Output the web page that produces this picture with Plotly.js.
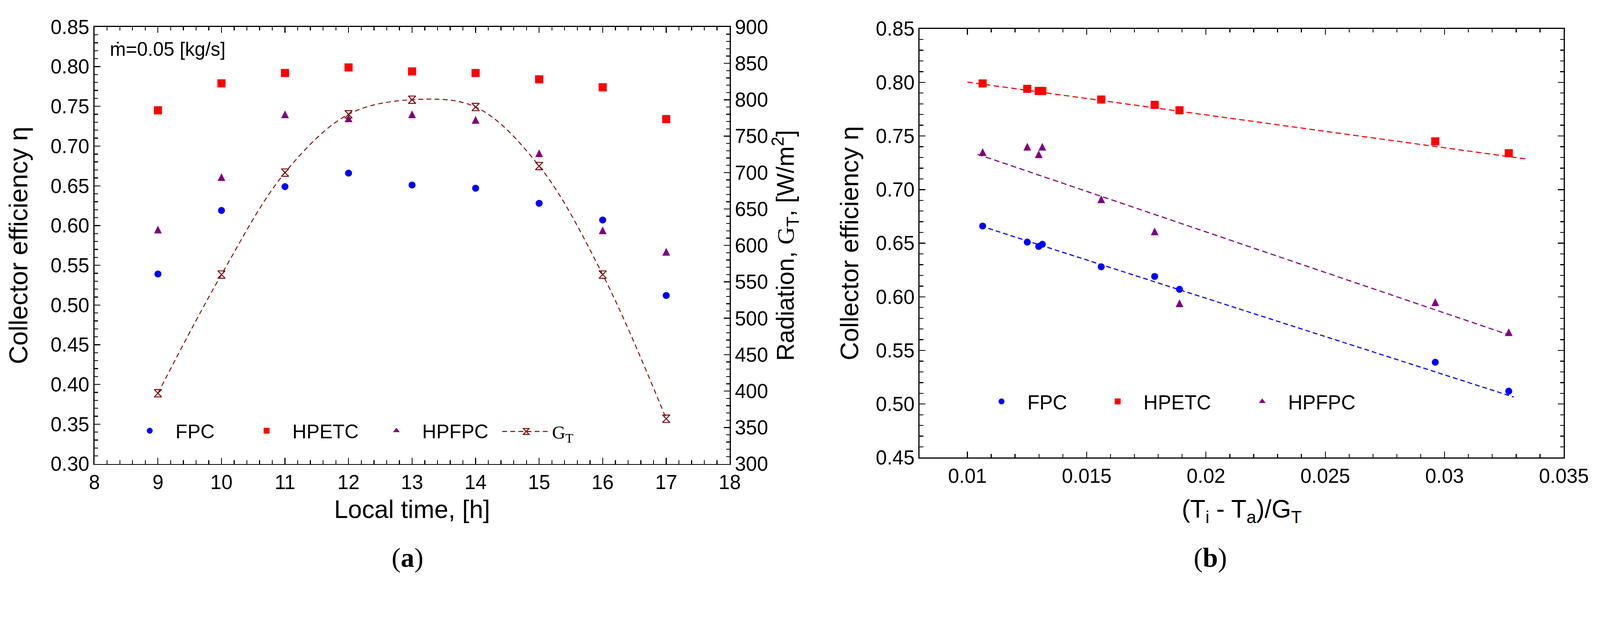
<!DOCTYPE html>
<html>
<head>
<meta charset="utf-8">
<script src="https://cdn.plot.ly/plotly-3.0.1.min.js"></script>
<style>html,body{margin:0;padding:0;background:#fff;overflow:hidden;}</style>
</head>
<body>
<div id="chart" style="width:4339px;height:1582px;transform-origin:0 0;"></div>
<script>
// ---------------- data ----------------
const hours      = [9, 10, 11, 12, 13, 14, 15, 16, 17];
const fpcEff     = [0.539, 0.619, 0.649, 0.666, 0.651, 0.647, 0.628, 0.607, 0.512];
const hpetcEff   = [0.745, 0.779, 0.792, 0.799, 0.794, 0.792, 0.784, 0.774, 0.734];
const hpfpcEff   = [0.595, 0.661, 0.740, 0.735, 0.740, 0.733, 0.691, 0.594, 0.567];
const radiationGT = [397, 560, 700, 780, 800, 790, 709, 560, 362];
const reducedTemp = [0.02961, 0.01785, 0.01314, 0.01064, 0.01251, 0.01299, 0.01561, 0.01889, 0.03269];

// linear fit lines of panel (b): end points
const fpcFitX   = [0.01057, 0.0329];
const fpcFitY   = [0.666, 0.5065];
const hpetcFitX = [0.0100, 0.0334];
const hpetcFitY = [0.8003, 0.7286];
const hpfpcFitX = [0.01042, 0.03287];
const hpfpcFitY = [0.733, 0.5632];

const xTicksB     = [0.01, 0.015, 0.02, 0.025, 0.03, 0.035];
const xTickTextB  = ['0.01', '0.015', '0.02', '0.025', '0.03', '0.035'];

// ---------------- styling ----------------
const W = 4339, H = 1582;
const SANS = 'Liberation Sans, Arial, sans-serif';
const SERIF = 'Liberation Serif, Times New Roman, serif';
const BLUE = '#0000ff', RED = '#ff0000', PURPLE = '#800080', DRED = '#800000';
const px = v => v / W;
const py = v => 1 - v / H;

// fit the fixed-size figure into the actual viewport
const chartDiv = document.getElementById('chart');
const vw = window.innerWidth || document.documentElement.clientWidth || W;
const vh = window.innerHeight || document.documentElement.clientHeight || H;
const sc = Math.min(vw / W, vh / H);
if (Math.abs(sc - 1) > 0.002) chartDiv.style.transform = 'scale(' + sc + ')';

const minorB = [];
for (let i = 10; i <= 34; i++) minorB.push(i / 1000);

const axisCommon = {
  showline: true, linecolor: '#000', linewidth: 3,
  ticks: 'inside', ticklen: 16, tickwidth: 2.5, tickcolor: '#000',
  showgrid: false, zeroline: false, automargin: false,
  tickfont: {family: SANS, size: 54, color: '#000'}
};
const minorCommon = {ticks: 'inside', ticklen: 10, tickwidth: 2.5, tickcolor: '#000', showgrid: false};

// upward triangle centred on the point (arrow-down flipped, moved back by half its height)
const triMarker = (color) => ({symbol: 'arrow-down', angle: 180, size: 21, standoff: 10.5, color: color});

const traces = [
  // panel (a)
  {x: hours, y: fpcEff, type: 'scatter', mode: 'markers', name: 'FPC', legend: 'legend',
   marker: {symbol: 'circle', size: 19, color: BLUE}, xaxis: 'x', yaxis: 'y'},
  {x: hours, y: hpetcEff, type: 'scatter', mode: 'markers', name: 'HPETC', legend: 'legend2',
   marker: {symbol: 'square', size: 22, color: RED}, xaxis: 'x', yaxis: 'y'},
  {x: hours, y: hpfpcEff, type: 'scatter', mode: 'markers', name: 'HPFPC', showlegend: false,
   marker: triMarker(PURPLE), xaxis: 'x', yaxis: 'y'},
  {x: [null], y: [null], type: 'scatter', mode: 'markers', name: 'HPFPC', legend: 'legend3',
   marker: {symbol: 'triangle-up', size: 16, color: PURPLE}, xaxis: 'x', yaxis: 'y'},
  {x: hours, y: radiationGT, type: 'scatter', mode: 'lines+markers', name: 'G<sub>T</sub>', legend: 'legend4',
   line: {color: DRED, width: 2.5, dash: '13px,9px', shape: 'spline', smoothing: 1},
   marker: {symbol: 'hourglass-open', size: 20, color: DRED, line: {width: 2.5, color: DRED}},
   xaxis: 'x', yaxis: 'y2'},
  // panel (b) fit lines
  {x: hpetcFitX, y: hpetcFitY, type: 'scatter', mode: 'lines', showlegend: false,
   line: {color: RED, width: 3, dash: '15px,9px'}, xaxis: 'x2', yaxis: 'y3'},
  {x: hpfpcFitX, y: hpfpcFitY, type: 'scatter', mode: 'lines', showlegend: false,
   line: {color: PURPLE, width: 3, dash: '15px,9px'}, xaxis: 'x2', yaxis: 'y3'},
  {x: fpcFitX, y: fpcFitY, type: 'scatter', mode: 'lines', showlegend: false,
   line: {color: BLUE, width: 3, dash: '13px,8px'}, xaxis: 'x2', yaxis: 'y3'},
  // panel (b) points
  {x: reducedTemp, y: fpcEff, type: 'scatter', mode: 'markers', name: 'FPC', legend: 'legend5',
   marker: {symbol: 'circle', size: 19, color: BLUE}, xaxis: 'x2', yaxis: 'y3'},
  {x: reducedTemp, y: hpetcEff, type: 'scatter', mode: 'markers', name: 'HPETC', legend: 'legend6',
   marker: {symbol: 'square', size: 22, color: RED}, xaxis: 'x2', yaxis: 'y3'},
  {x: reducedTemp, y: hpfpcEff, type: 'scatter', mode: 'markers', name: 'HPFPC', showlegend: false,
   marker: triMarker(PURPLE), xaxis: 'x2', yaxis: 'y3'},
  {x: [null], y: [null], type: 'scatter', mode: 'markers', name: 'HPFPC', legend: 'legend7',
   marker: {symbol: 'triangle-up', size: 16, color: PURPLE}, xaxis: 'x2', yaxis: 'y3'}
];

const legendAt = (xpx, ypx, family, size) => ({
  x: px(xpx), y: py(ypx), xanchor: 'left', yanchor: 'middle', orientation: 'h',
  bgcolor: 'rgba(0,0,0,0)', borderwidth: 0, itemwidth: 130, valign: 'middle',
  font: {family: family, size: size, color: '#000'}
});

const layout = {
  width: W, height: H, autosize: false,
  margin: {l: 0, r: 0, t: 0, b: 0, pad: 0},
  paper_bgcolor: '#fff', plot_bgcolor: 'rgba(0,0,0,0)',
  font: {family: SANS, color: '#000', size: 54},
  xaxis: Object.assign({}, axisCommon, {
    domain: [px(256), px(1979)], anchor: 'y', range: [8, 18], tick0: 8, dtick: 1,
    mirror: 'ticks', minor: Object.assign({dtick: 0.2}, minorCommon),
    title: {text: 'Local time, [h]', font: {family: SANS, size: 68, color: '#000'}, standoff: 22}
  }),
  yaxis: Object.assign({}, axisCommon, {
    domain: [py(1258), py(73)], anchor: 'x', range: [0.30, 0.85], tick0: 0.30, dtick: 0.05,
    tickformat: '.2f', minor: Object.assign({dtick: 0.01}, minorCommon),
    title: {text: 'Collector efficiency η', font: {family: SANS, size: 70, color: '#000'}, standoff: 40}
  }),
  yaxis2: Object.assign({}, axisCommon, {
    overlaying: 'y', side: 'right', anchor: 'x', range: [300, 900], tick0: 300, dtick: 50,
    minor: Object.assign({dtick: 10}, minorCommon),
    title: {text: 'Radiation, <span style="font-family:Liberation Serif">G</span><sub>T</sub>, [W/m<sup>2</sup>]',
            font: {family: SANS, size: 66, color: '#000'}, standoff: 14}
  }),
  xaxis2: Object.assign({}, axisCommon, {
    domain: [px(2494), px(4241)], anchor: 'y3', range: [0.008, 0.035],
    tickmode: 'array', tickvals: xTicksB, ticktext: xTickTextB, mirror: 'ticks',
    minor: Object.assign({tickmode: 'array', tickvals: minorB}, minorCommon),
    title: {text: '(T<sub>i</sub> - T<sub>a</sub>)/G<sub>T</sub>', font: {family: SANS, size: 68, color: '#000'}, standoff: 38}
  }),
  yaxis3: Object.assign({}, axisCommon, {
    domain: [py(1241), py(78)], anchor: 'x2', range: [0.45, 0.85], tick0: 0.45, dtick: 0.05,
    tickformat: '.2f', mirror: 'ticks', minor: Object.assign({dtick: 0.01}, minorCommon),
    title: {text: 'Collector efficiency η', font: {family: SANS, size: 69, color: '#000'}, standoff: 25}
  }),
  legend:  legendAt(336, 1168, SANS, 53),
  legend2: legendAt(653, 1168, SANS, 53),
  legend3: legendAt(1005, 1168, SANS, 53),
  legend4: legendAt(1357, 1170, SERIF, 50),
  legend5: legendAt(2646, 1089, SANS, 54),
  legend6: legendAt(2961, 1089, SANS, 54),
  legend7: legendAt(3353, 1089, SANS, 54),
  annotations: [
    {text: 'ṁ=0.05 [kg/s]', xref: 'paper', yref: 'paper', x: px(296), y: py(133),
     xanchor: 'left', yanchor: 'middle', showarrow: false, font: {family: SANS, size: 52, color: '#000'}},
    {text: '(<b>a</b>)', xref: 'paper', yref: 'paper', x: px(1105), y: py(1512),
     xanchor: 'center', yanchor: 'middle', showarrow: false, font: {family: SERIF, size: 74, color: '#000'}},
    {text: '(<b>b</b>)', xref: 'paper', yref: 'paper', x: px(3282), y: py(1512),
     xanchor: 'center', yanchor: 'middle', showarrow: false, font: {family: SERIF, size: 74, color: '#000'}}
  ]
};

Plotly.newPlot('chart', traces, layout, {staticPlot: true, displayModeBar: false});
</script>
</body>
</html>
